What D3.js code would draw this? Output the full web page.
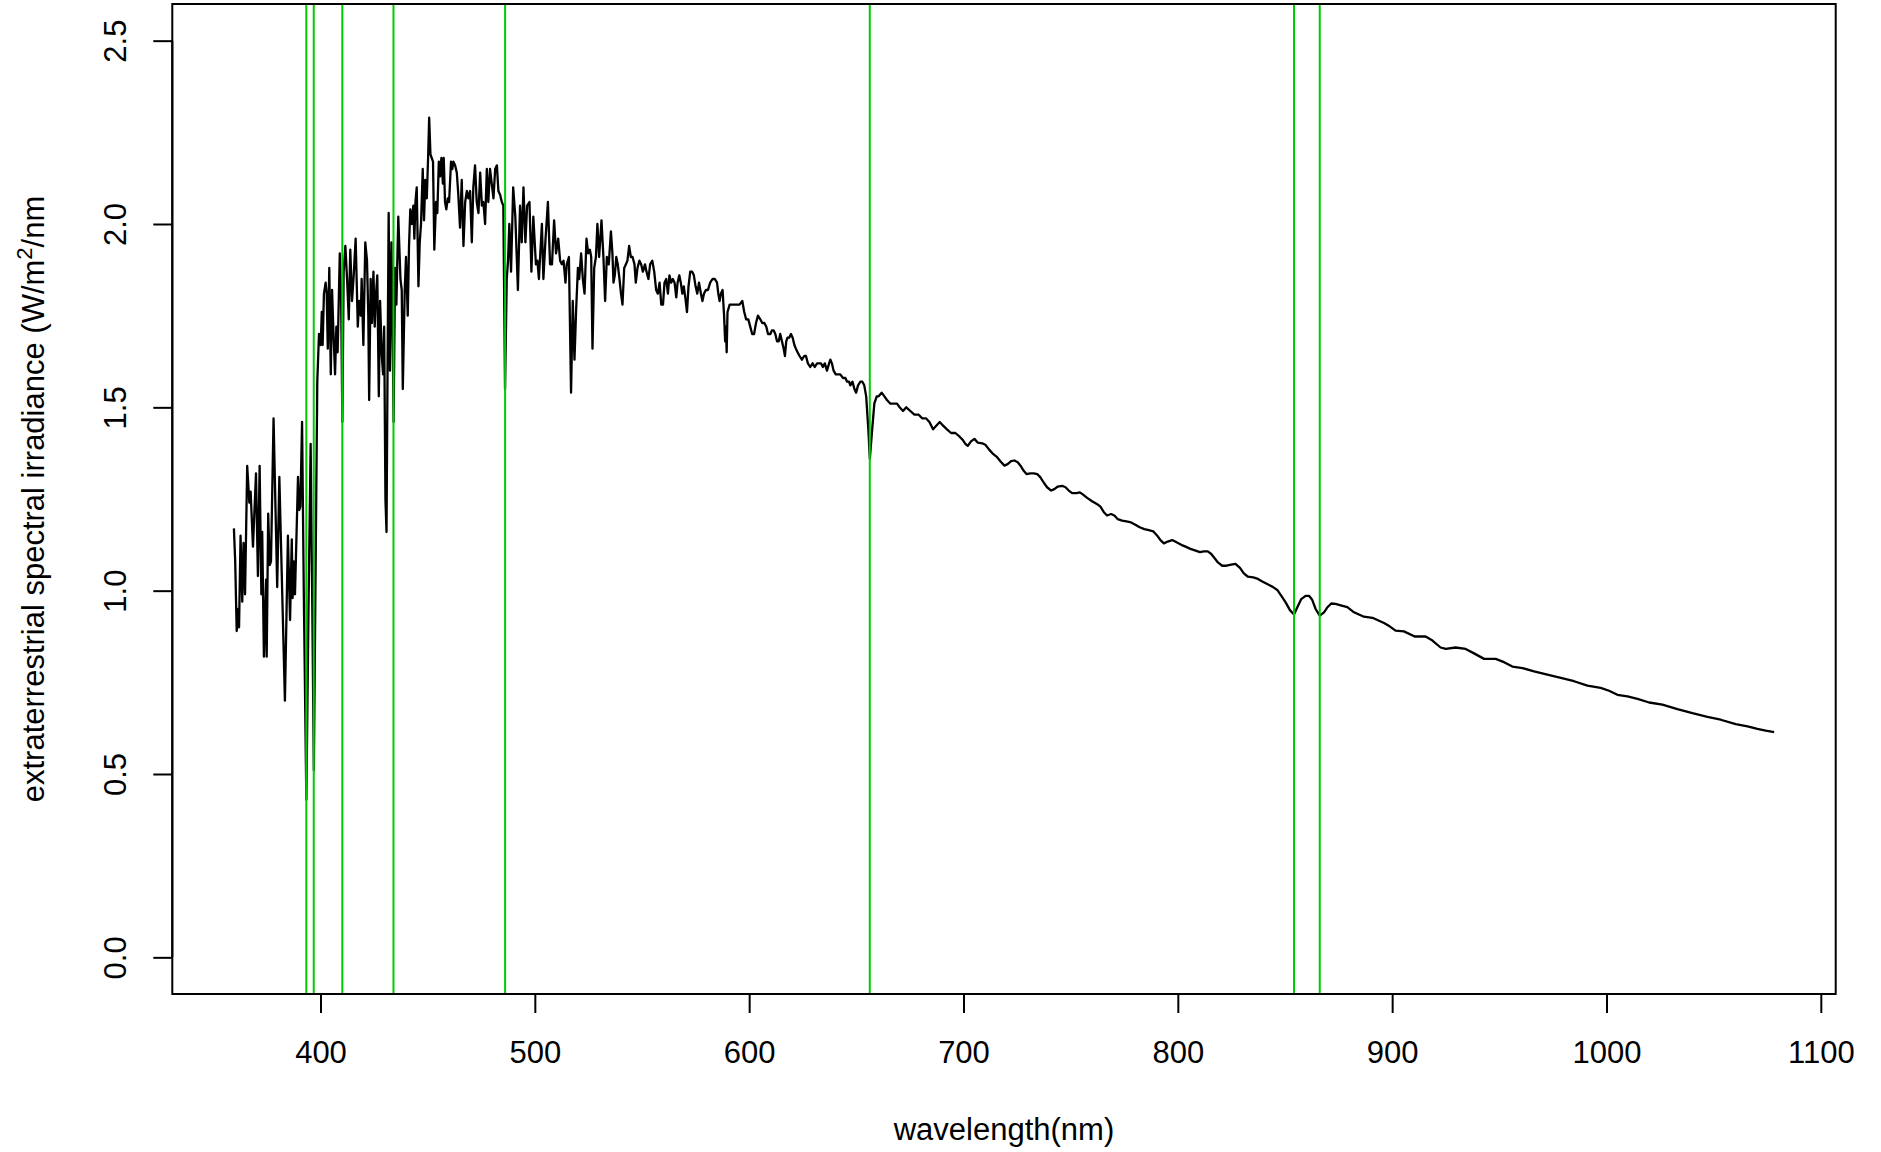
<!DOCTYPE html>
<html><head><meta charset="utf-8">
<script src="https://cdn.jsdelivr.net/npm/d3@7"></script>
<style>
body{margin:0;background:#fff}
svg{display:block}
text{font-family:"Liberation Sans",Arial,Helvetica,sans-serif;fill:#000}
</style>
</head><body>
<svg id="chart" width="1881" height="1152"></svg>
<script>
// ---------------- data ----------------
const wavelength = [
359.6,360.2,360.9,361.6,362.0,362.7,363.5,364.1,364.8,365.8,
366.8,367.4,368.5,369.9,370.8,371.6,372.4,372.8,373.6,374.6,
374.9,375.6,376.3,376.9,378.1,379.8,380.8,382.2,383.4,384.8,
385.8,386.6,387.0,387.5,388.1,389.5,390.1,390.6,391.4,392.2,
393.4,394.4,395.4,396.1,396.9,397.7,398.5,
399.3,400.1,400.6,401.0,401.6,402.4,402.9,403.4,404.1,404.8,
405.4,406.0,406.8,407.4,408.0,409.0,409.6,410.2,410.8,411.6,
412.4,413.2,413.9,414.7,415.5,416.4,417.4,418.0,418.8,419.2,
420.0,420.9,421.7,422.3,422.7,423.4,424.0,424.7,425.3,425.8,
426.5,427.2,427.8,428.6,429.2,429.7,430.3,430.8,431.3,431.8,
432.4,433.1,433.7,434.1,434.8,435.4,436.3,437.3,437.9,438.4,
439.3,439.9,440.7,441.3,441.9,442.6,443.3,443.8,444.3,444.9,
445.7,446.3,446.9,447.7,448.3,448.9,449.6,450.2,450.7,451.3,
451.9,452.5,453.1,453.9,454.5,455.2,455.8,456.4,457.1,457.5,
458.1,458.7,459.4,460.0,460.9,461.5,462.0,462.8,463.6,464.3,
465.1,465.9,466.7,467.5,468.3,469.0,469.8,470.6,471.3,472.1,
472.9,473.7,474.5,475.3,476.0,476.8,477.6,478.3,479.1,479.9,
480.7,481.5,482.3,483.0,483.8,484.6,485.3,486.1,
486.9,487.5,488.1,488.9,489.9,490.9,492.1,493.1,493.9,494.7,
495.6,496.4,497.5,498.4,499.3,500.5,501.2,501.9,503.3,504.0,
505.0,506.1,507.1,508.0,509.0,509.9,510.9,511.8,512.6,513.4,
514.3,514.9,515.9,516.9,517.7,518.5,519.3,520.1,520.7,521.6,
522.4,523.2,524.1,524.9,525.7,526.3,526.9,527.7,528.5,529.2,
530.0,531.1,532.0,532.8,533.6,534.5,535.5,536.2,536.7,537.3,
538.0,538.7,539.5,540.2,540.9,541.7,542.5,543.2,544.0,544.8,
545.6,546.5,547.1,547.9,548.8,549.6,550.4,551.4,552.1,553.0,
553.8,554.8,555.7,556.6,557.4,558.2,559.0,559.8,560.5,561.3,
562.1,562.8,563.6,564.4,565.2,566.0,566.6,567.4,568.1,568.8,
569.5,570.2,571.0,571.7,572.5,573.4,574.2,575.0,575.8,576.6,
577.5,578.2,578.9,579.8,580.8,581.8,582.9,584.0,585.0,585.6,
586.2,586.8,587.6,588.3,588.8,589.2,589.5,589.9,590.9,592.0,
593.0,594.3,595.5,596.8,597.7,598.6,599.6,
600.5,601.4,602.3,603.2,604.1,605.2,606.1,607.1,608.0,608.8,
609.9,610.6,611.4,612.2,613.0,613.8,614.5,615.3,616.1,616.7,
617.3,617.9,618.7,619.5,620.3,621.1,621.8,622.6,623.5,624.6,
625.7,626.5,627.4,628.5,629.6,630.6,631.7,632.6,633.5,634.4,
635.3,636.3,637.3,637.9,638.6,639.4,640.4,641.3,642.5,643.8,
644.9,645.7,646.6,647.2,648.2,649.1,649.9,650.8,651.9,652.8,
653.7,654.6,655.6,656.3,657.4,658.4,659.5,660.4,661.8,663.1,
664.3,665.9,667.4,669.0,670.2,671.8,673.3,675.2,677.1,679.1,
680.7,682.5,684.1,685.8,687.3,688.9,690.5,692.3,694.2,696.2,
698.2,699.8,
700.9,702.0,703.5,705.1,706.6,708.7,710.2,711.8,713.8,715.7,
717.2,719.1,720.6,722.2,723.8,725.3,726.6,728.1,729.4,731.2,
732.8,734.4,735.9,737.4,739.0,740.9,742.4,744.0,746.0,747.6,
749.1,750.7,752.7,754.3,755.8,757.7,760.0,762.4,763.9,765.5,
767.0,768.9,770.4,772.0,774.0,776.0,778.2,780.2,782.2,784.4,
786.5,788.5,790.4,791.9,793.5,795.3,797.4,799.4,801.6,803.6,
805.9,808.3,810.3,812.1,814.0,815.6,817.1,818.7,820.7,822.7,
824.9,826.9,829.0,830.8,832.7,835.2,837.4,839.4,841.7,844.1,
846.4,848.3,850.3,852.3,854.2,
855.7,857.6,859.6,861.2,862.7,864.3,866.2,868.2,869.7,871.6,
873.6,876.0,879.1,882.2,886.8,890.8,896.2,899.0,901.6,905.5,
910.5,915.6,918.8,922.6,925.0,929.6,934.3,938.2,942.9,948.3,
952.2,956.1,960.8,966.2,972.4,978.7,984.9,991.1,997.3,1001.2,
1005.1,1009.8,1014.5,1019.9,1026.1,1033.1,1040.1,1047.1,1053.3,1060.3,
1065.8,1070.4,1074.3,1078.2
];
const irradiance = [
1.17,1.08,0.89,0.95,0.90,1.15,0.97,1.13,0.99,1.34,
1.24,1.27,1.12,1.32,1.04,1.34,0.99,1.16,0.82,1.03,
0.82,1.21,1.07,1.08,1.47,1.01,1.31,0.98,0.70,1.15,
0.92,1.14,0.98,1.08,0.99,1.31,1.22,1.23,1.46,1.00,
0.43,0.95,1.40,1.00,0.51,1.05,1.57,
1.70,1.67,1.76,1.67,1.81,1.84,1.81,1.66,1.88,1.59,
1.82,1.71,1.59,1.72,1.65,1.92,1.81,1.46,1.87,1.94,
1.85,1.74,1.93,1.79,1.86,1.96,1.72,1.79,1.75,1.85,
1.67,1.95,1.90,1.75,1.52,1.85,1.73,1.87,1.72,1.80,
1.86,1.53,1.79,1.64,1.59,1.72,1.25,1.16,1.62,2.03,
1.60,1.95,1.69,1.46,1.88,1.78,2.02,1.85,1.82,1.55,
1.82,1.91,1.75,1.94,2.04,2.00,2.05,1.96,2.06,2.10,
1.83,1.95,2.00,2.15,2.01,2.12,2.07,2.18,2.29,2.19,
2.18,2.17,1.93,2.06,2.03,2.17,2.13,2.18,2.11,2.18,
2.06,2.04,2.07,2.06,2.17,2.15,2.17,2.16,2.14,2.08,
1.99,2.12,1.94,2.06,2.09,2.07,2.09,1.95,2.10,2.16,
2.06,2.03,2.14,2.05,2.06,2.00,2.15,2.06,2.15,2.11,
2.07,2.15,2.16,2.09,2.08,2.06,2.05,1.55,
1.85,1.90,2.00,1.87,2.10,2.02,1.82,2.05,1.95,2.10,
1.95,2.05,2.06,1.87,2.02,1.89,1.90,1.85,2.00,1.85,
1.96,2.06,1.89,1.89,2.01,1.92,1.96,1.90,1.89,1.90,
1.84,1.89,1.91,1.54,1.79,1.63,1.77,1.88,1.85,1.92,
1.85,1.81,1.96,1.92,1.93,1.91,1.66,1.88,1.91,2.00,
1.91,2.01,1.91,1.79,1.91,1.89,1.98,1.92,1.84,1.86,
1.91,1.89,1.85,1.81,1.78,1.88,1.89,1.90,1.94,1.91,
1.91,1.89,1.84,1.88,1.90,1.89,1.87,1.89,1.87,1.85,
1.89,1.90,1.87,1.82,1.81,1.84,1.78,1.78,1.84,1.85,
1.81,1.86,1.84,1.85,1.84,1.80,1.84,1.86,1.84,1.81,
1.83,1.80,1.76,1.83,1.87,1.87,1.86,1.83,1.81,1.84,
1.81,1.79,1.81,1.82,1.82,1.84,1.85,1.85,1.84,1.81,
1.79,1.81,1.82,1.75,1.68,1.72,1.65,1.76,1.78,1.78,
1.78,1.78,1.78,1.79,1.76,1.74,1.74,
1.72,1.70,1.70,1.73,1.75,1.74,1.73,1.73,1.72,1.70,
1.70,1.71,1.71,1.70,1.68,1.68,1.70,1.68,1.66,1.64,
1.68,1.69,1.69,1.70,1.69,1.67,1.66,1.65,1.64,1.63,
1.64,1.64,1.62,1.61,1.62,1.61,1.62,1.62,1.62,1.61,
1.62,1.60,1.62,1.63,1.62,1.60,1.59,1.59,1.59,1.58,
1.58,1.57,1.57,1.56,1.57,1.55,1.54,1.56,1.57,1.57,
1.56,1.53,1.44,1.36,1.44,1.51,1.53,1.53,1.54,1.53,
1.52,1.51,1.51,1.51,1.50,1.49,1.50,1.49,1.48,1.48,
1.47,1.47,1.46,1.44,1.45,1.46,1.45,1.44,1.43,1.43,
1.42,1.41,
1.400,1.395,1.407,1.414,1.404,1.402,1.398,1.386,1.373,1.364,
1.353,1.341,1.345,1.353,1.355,1.350,1.341,1.327,1.318,1.320,
1.320,1.318,1.309,1.295,1.282,1.273,1.277,1.284,1.286,1.282,
1.273,1.266,1.266,1.268,1.262,1.253,1.244,1.236,1.229,1.214,
1.205,1.209,1.205,1.195,1.191,1.189,1.186,1.180,1.173,1.168,
1.165,1.162,1.150,1.138,1.129,1.134,1.138,1.132,1.125,1.120,
1.114,1.109,1.105,1.107,1.107,1.100,1.089,1.077,1.068,1.068,
1.071,1.073,1.062,1.047,1.038,1.036,1.032,1.025,1.018,1.011,
1.002,0.986,0.968,0.947,0.935,
0.954,0.977,0.986,0.986,0.975,0.950,0.932,0.941,0.954,0.965,
0.964,0.960,0.955,0.941,0.929,0.926,0.912,0.902,0.891,0.889,
0.875,0.875,0.864,0.845,0.841,0.845,0.841,0.829,0.814,0.814,
0.805,0.793,0.789,0.780,0.771,0.762,0.753,0.741,0.735,0.727,
0.716,0.712,0.705,0.695,0.689,0.677,0.666,0.656,0.648,0.636,
0.630,0.623,0.618,0.614
];
// Fraunhofer / absorption lines marked in green (nm)
const absorptionLines = [393.37, 396.85, 410.17, 434.05, 486.13, 656.28, 854.21, 866.21];
const xTicks = [400, 500, 600, 700, 800, 900, 1000, 1100];
const yTicks = [0, 0.5, 1.0, 1.5, 2.0, 2.5];
const yTickLabels = ["0.0", "0.5", "1.0", "1.5", "2.0", "2.5"];
const xLabel = "wavelength(nm)";
const yLabelMain = "extraterrestrial spectral irradiance (W/m";
const yLabelSup = "2";
const yLabelEnd = "/nm";

// ---------------- layout ----------------
const plot = {left: 172.3, right: 1835.7, top: 4, bottom: 994};
const svg = d3.select("#chart");

// R-style 4% axis expansion around the data / ylim
const xMin = d3.min(wavelength), xMax = d3.max(wavelength);
const xPad = (xMax - xMin) * 0.04;
const x = d3.scaleLinear().domain([xMin - xPad, xMax + xPad]).range([plot.left, plot.right]);
const yLim = [0, 2.5];
const yPad = (yLim[1] - yLim[0]) * 0.04;
const y = d3.scaleLinear().domain([yLim[0] - yPad, yLim[1] + yPad]).range([plot.bottom, plot.top]);

const data = wavelength.map((w, i) => ({w, v: irradiance[i]}));

// clip
svg.append("defs").append("clipPath").attr("id", "clip")
  .append("rect").attr("x", plot.left).attr("y", plot.top)
  .attr("width", plot.right - plot.left).attr("height", plot.bottom - plot.top);

// spectrum line
svg.append("path")
  .datum(data)
  .attr("clip-path", "url(#clip)")
  .attr("fill", "none")
  .attr("stroke", "#000")
  .attr("stroke-width", 2.3)
  .attr("stroke-linejoin", "round")
  .attr("d", d3.line().x(d => x(d.w)).y(d => y(d.v)));

// green vertical lines
svg.append("g").attr("clip-path", "url(#clip)")
  .selectAll("line").data(absorptionLines).join("line")
  .attr("x1", d => x(d)).attr("x2", d => x(d))
  .attr("y1", plot.top).attr("y2", plot.bottom)
  .attr("stroke", "#00CD00").attr("stroke-width", 2);

// box
svg.append("rect")
  .attr("x", plot.left).attr("y", plot.top)
  .attr("width", plot.right - plot.left).attr("height", plot.bottom - plot.top)
  .attr("fill", "none").attr("stroke", "#000").attr("stroke-width", 2);

// x axis
const xAxis = svg.append("g")
  .attr("transform", `translate(0,${plot.bottom})`)
  .call(d3.axisBottom(x).tickValues(xTicks).tickSize(19).tickSizeOuter(0).tickFormat(d3.format("d")));
xAxis.select(".domain").attr("d", `M${x(xTicks[0])},0H${x(xTicks[xTicks.length-1])}`)
  .attr("stroke", "#000").attr("stroke-width", 2);
xAxis.selectAll(".tick line").attr("stroke", "#000").attr("stroke-width", 2);
xAxis.selectAll(".tick text")
  .attr("y", 69).attr("dy", 0)
  .style("font-size", "31px")
  .style("font-family", '"Liberation Sans",Arial,Helvetica,sans-serif')
  .attr("fill", "#000");

// y axis
const yAxis = svg.append("g")
  .attr("transform", `translate(${plot.left},0)`)
  .call(d3.axisLeft(y).tickValues(yTicks).tickSize(19).tickSizeOuter(0)
    .tickFormat((d, i) => yTickLabels[i]));
yAxis.select(".domain").attr("d", `M0,${y(yTicks[0])}V${y(yTicks[yTicks.length-1])}`)
  .attr("stroke", "#000").attr("stroke-width", 2);
yAxis.selectAll(".tick line").attr("stroke", "#000").attr("stroke-width", 2);
yAxis.selectAll(".tick text")
  .attr("x", 0).attr("dy", 0)
  .attr("text-anchor", "middle")
  .attr("transform", "translate(-46,0) rotate(-90)")
  .style("font-size", "31px")
  .style("font-family", '"Liberation Sans",Arial,Helvetica,sans-serif')
  .attr("fill", "#000");

// axis titles
svg.append("text")
  .attr("x", (plot.left + plot.right) / 2).attr("y", 1140)
  .attr("text-anchor", "middle").style("font-size", "31px")
  .text(xLabel);

const yt = svg.append("text")
  .attr("transform", `translate(44,${(plot.top + plot.bottom) / 2}) rotate(-90)`)
  .attr("text-anchor", "middle").style("font-size", "31px");
yt.append("tspan").text(yLabelMain);
yt.append("tspan").attr("dy", -12).style("font-size", "22px").text(yLabelSup);
yt.append("tspan").attr("dy", 12).text(yLabelEnd);
</script>
</body></html>
